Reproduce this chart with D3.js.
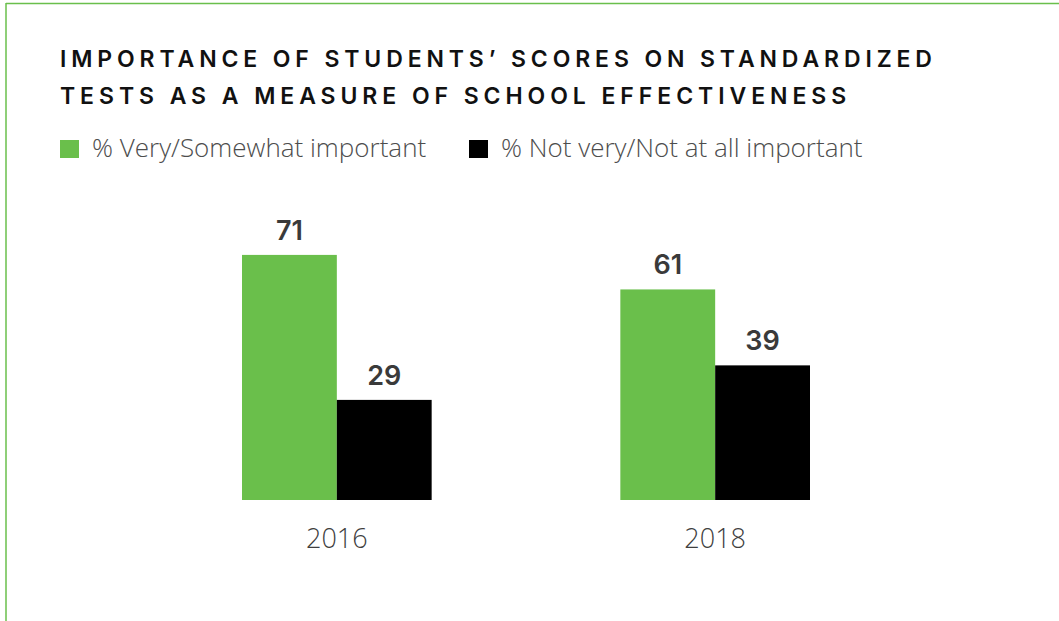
<!DOCTYPE html>
<html>
<head>
<meta charset="utf-8">
<script src="https://cdn.jsdelivr.net/npm/d3@7"></script>
<style>
  html, body { margin: 0; padding: 0; background: #fff; }
  svg { display: block; }
</style>
</head>
<body>
<svg id="chart" width="1059" height="621"></svg>
<script>
// Survey results: importance of standardized test scores
const titleLines = [
  "IMPORTANCE OF STUDENTS\u2019 SCORES ON STANDARDIZED",
  "TESTS AS A MEASURE OF SCHOOL EFFECTIVENESS"
];
const years = ["2016", "2018"];
const seriesNames = ["% Very/Somewhat important", "% Not very/Not at all important"];
const importantVals = [71, 61];
const notImportantVals = [29, 39];
const seriesColors = ["#6abf4b", "#000000"];

const rows = years.map((y, i) => ({ year: y, values: [importantVals[i], notImportantVals[i]] }));

const W = 1059, H = 621;
const svg = d3.select("#chart");
const green = seriesColors[0];

// frame: top and left rules
svg.append("line").attr("x1", 6).attr("x2", W).attr("y1", 3.5).attr("y2", 3.5)
  .attr("stroke", green).attr("stroke-width", 1.5);
svg.append("line").attr("x1", 6).attr("x2", 6).attr("y1", 3).attr("y2", H)
  .attr("stroke", green).attr("stroke-width", 1.5);

// title, letter-spaced to span its line
const titleWidths = [872, 786];
titleLines.forEach((t, i) => {
  const el = svg.append("text")
    .attr("x", 60).attr("y", 67 + i * 37)
    .attr("font-family", "Inter, 'Liberation Sans', sans-serif")
    .attr("font-weight", 600).attr("font-size", 23)
    .attr("fill", "#111")
    .text(t);
  const natural = el.node().getComputedTextLength();
  const ls = (titleWidths[i] - natural) / (t.length - 1);
  el.attr("letter-spacing", ls.toFixed(2));
});

// legend
const legendX = [60, 469];
seriesNames.forEach((name, i) => {
  const g = svg.append("g").attr("transform", `translate(${legendX[i]},140)`);
  g.append("rect").attr("width", 19).attr("height", 18).attr("fill", seriesColors[i]);
  g.append("text").attr("x", 32).attr("y", 17)
    .attr("font-family", "'Open Sans', Roboto, sans-serif")
    .attr("font-weight", 300).attr("font-size", 26)
    .attr("fill", "#4d4d4d").text(name);
});

// scales
const x0 = d3.scaleBand().domain(years).range([242, 810]).paddingInner(0.4987).paddingOuter(0);
const x1 = d3.scaleBand().domain([0, 1]).range([0, x0.bandwidth()]).padding(0);
const y = d3.scaleLinear().domain([0, 100]).range([500, 154.8]);

const groups = svg.selectAll("g.year").data(rows).join("g")
  .attr("class", "year")
  .attr("transform", d => `translate(${x0(d.year)},0)`);

groups.selectAll("rect").data(d => d.values).join("rect")
  .attr("x", (v, j) => x1(j))
  .attr("y", v => y(v))
  .attr("width", x1.bandwidth())
  .attr("height", v => y(0) - y(v))
  .attr("fill", (v, j) => seriesColors[j]);

groups.selectAll("text.val").data(d => d.values).join("text")
  .attr("class", "val")
  .attr("x", (v, j) => x1(j) + x1.bandwidth() / 2)
  .attr("y", v => y(v) - 15)
  .attr("text-anchor", "middle")
  .attr("font-family", "Inter, 'Liberation Sans', sans-serif")
  .attr("font-weight", 600).attr("font-size", 27)
  .attr("fill", "#3a3a3a")
  .text(v => v);

// category axis labels
const xAxis = d3.axisBottom(x0).tickSize(0).tickPadding(0);
const ax = svg.append("g").attr("transform", "translate(0,548)").call(xAxis);
ax.select(".domain").remove();
ax.selectAll("text")
  .attr("dy", 0)
  .attr("font-family", "'Open Sans', Roboto, sans-serif")
  .attr("font-weight", 300).attr("font-size", 27)
  .attr("fill", "#3f3f3f");
</script>
</body>
</html>
